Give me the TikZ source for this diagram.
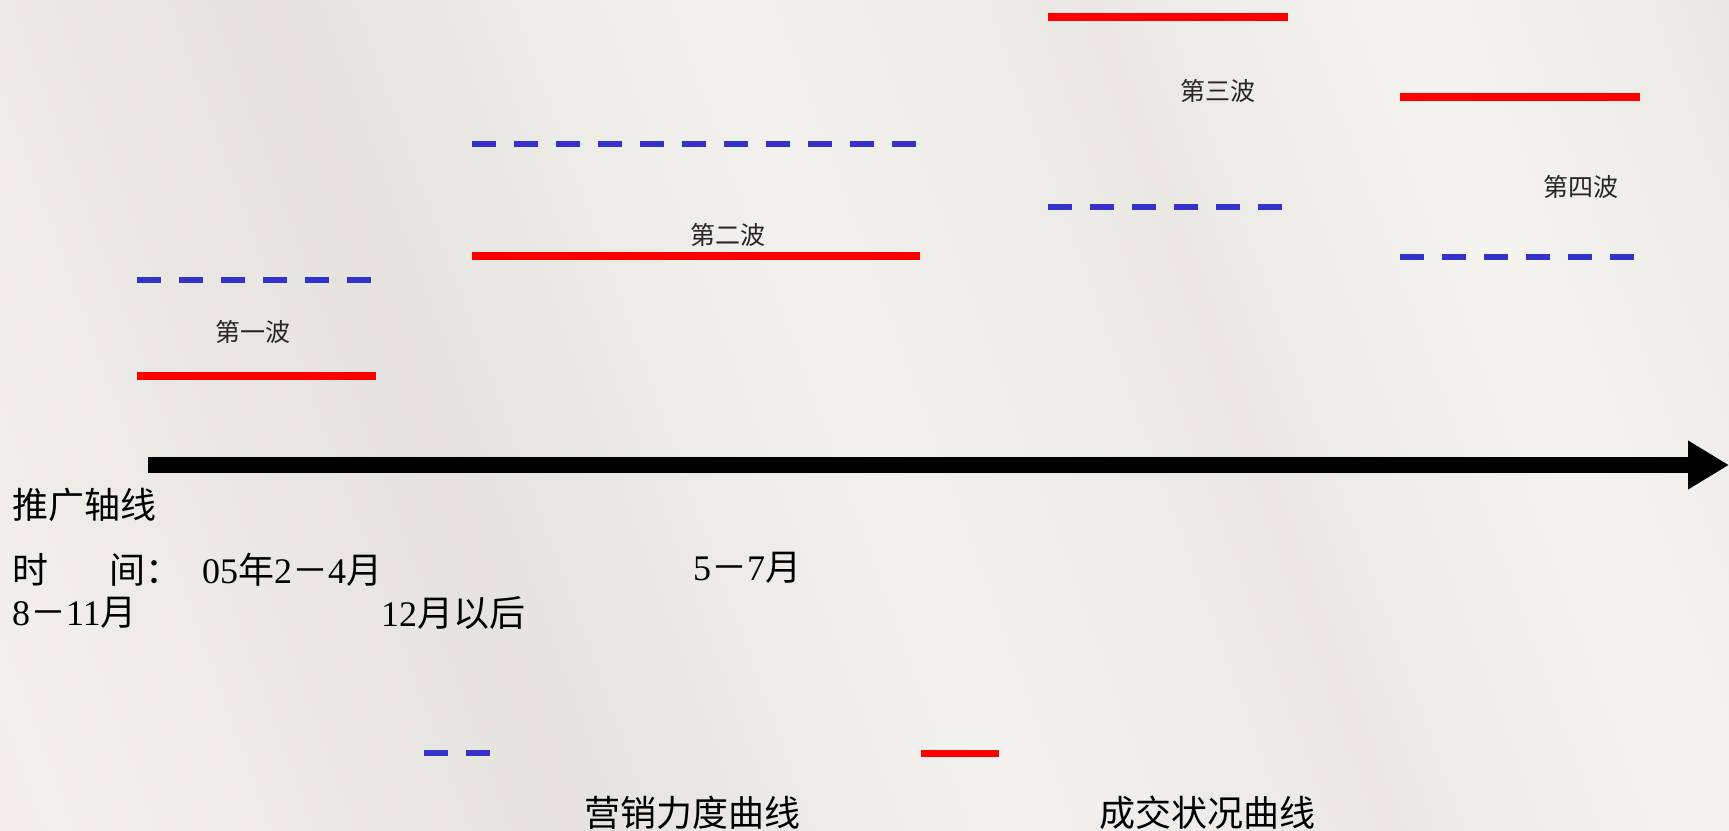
\documentclass[tikz,border=0pt]{standalone}
\usepackage{fontspec}
\setmainfont{Liberation Serif}
\newfontfamily\cjk{Noto Sans CJK SC}
\usetikzlibrary{arrows.meta}
\definecolor{paper}{RGB}{234,232,228}
\definecolor{paperlight}{RGB}{244,243,240}
\definecolor{effortblue}{RGB}{51,51,204}
\definecolor{dealred}{RGB}{255,0,0}
\pgfdeclarehorizontalshading{paperbands}{100bp}{%
  rgb(0bp)=(0.93,0.92,0.90);
  rgb(20bp)=(0.95,0.94,0.92);
  rgb(36bp)=(0.90,0.89,0.87);
  rgb(50bp)=(0.95,0.945,0.93);
  rgb(62bp)=(0.92,0.91,0.89);
  rgb(72bp)=(0.96,0.955,0.94);
  rgb(84bp)=(0.91,0.90,0.88);
  rgb(100bp)=(0.95,0.945,0.93)}
\newcommand\cj[1]{{\cjk #1}}
\tikzset{
  effort/.style={draw=effortblue, line width=6pt, dash pattern=on 24pt off 18pt},
  deal/.style={draw=dealred, line width=8pt},
  wavelabel/.style={inner sep=0pt, font=\fontsize{25}{28}\selectfont\cjk, text=black!85},
  bigtext/.style={inner sep=0pt, font=\fontsize{36}{40}\selectfont, text=black, anchor=west},
  axisline/.style={draw=black, line width=16pt, -{Triangle[length=41pt,width=46pt]}}
}
\begin{document}
\begin{tikzpicture}[x=1pt,y=-1pt]
\useasboundingbox (0,0) rectangle (1729,830);
\shade[shading=paperbands, shading angle=20] (0,0) rectangle (1729,830);

% wave 1
\coordinate (b1s) at (137,280); \coordinate (b1e) at (371,280);
\coordinate (r1s) at (137,376); \coordinate (r1e) at (376,376);
\draw[effort] (b1s) -- (b1e);
\draw[deal] (r1s) -- (r1e);
\node[wavelabel] (w1) at (253,332) {第一波};

% wave 2
\coordinate (b2s) at (472,144); \coordinate (b2e) at (916,144);
\coordinate (r2s) at (472,256); \coordinate (r2e) at (920,256);
\draw[effort] (b2s) -- (b2e);
\draw[deal] (r2s) -- (r2e);
\node[wavelabel] (w2) at (728,235) {第二波};

% wave 3
\coordinate (r3s) at (1048,17); \coordinate (r3e) at (1288,17);
\coordinate (b3s) at (1048,207); \coordinate (b3e) at (1282,207);
\draw[deal] (r3s) -- (r3e);
\draw[effort] (b3s) -- (b3e);
\node[wavelabel] (w3) at (1218,91) {第三波};

% wave 4
\coordinate (r4s) at (1400,97); \coordinate (r4e) at (1640,97);
\coordinate (b4s) at (1400,257); \coordinate (b4e) at (1634,257);
\draw[deal] (r4s) -- (r4e);
\draw[effort] (b4s) -- (b4e);
\node[wavelabel] (w4) at (1581,187) {第四波};

% axis
\coordinate (axS) at (148,465);
\coordinate (axE) at (1729,465);
\draw[axisline] (axS) -- (axE);

\node[bigtext] (axlabel) at (12,505) {\cj{推广轴线}};
\node[bigtext] (t1) at (12,570) {\cj{时}};
\node[bigtext] (t2) at (109,570) {\cj{间：}};
\node[bigtext] (t3) at (202,570) {05\cj{年}2\cj{－}4\cj{月}};
\node[bigtext] (t4) at (693,568) {5\cj{－}7\cj{月}};
\node[bigtext] (t5) at (12,613) {8\cj{－}11\cj{月}};
\node[bigtext] (t6) at (381,613) {12\cj{月以后}};

% legend
\coordinate (lbS) at (424,753); \coordinate (lbE) at (490,753);
\coordinate (lrS) at (921,753); \coordinate (lrE) at (999,753);
\draw[effort] (lbS) -- (lbE);
\draw[deal, line width=7pt] (lrS) -- (lrE);
\node[bigtext, anchor=center] (leg1) at (692,813) {\cj{营销力度曲线}};
\node[bigtext, anchor=center] (leg2) at (1207,813) {\cj{成交状况曲线}};
\end{tikzpicture}
\end{document}
